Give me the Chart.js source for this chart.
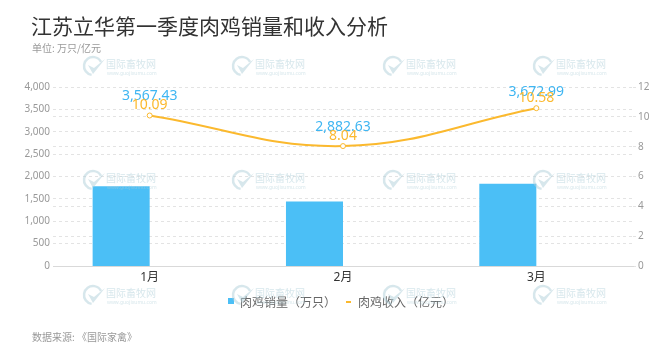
<!DOCTYPE html>
<html>
<head>
<meta charset="utf-8">
<script src="https://cdn.jsdelivr.net/npm/chart.js@4"></script>
<style>
  html, body { margin: 0; padding: 0; background: #fff; }
  #wrap { width: 665px; height: 353px; }
</style>
</head>
<body>
<div id="wrap"><canvas id="chart" width="665" height="353"></canvas></div>
<script>
// data
const months = ['1月', '2月', '3月'];
const sales = [3567.43, 2882.63, 3672.99];     // 肉鸡销量（万只）
const revenue = [10.09, 8.04, 10.58];          // 肉鸡收入（亿元）
const salesTicks = [0, 500, 1000, 1500, 2000, 2500, 3000, 3500, 4000];
const revenueTicks = [0, 2, 4, 6, 8, 10, 12];

const BLUE = '#4bbff6';
const BLUE_TEXT = '#3fb6f2';
const ORANGE = '#fbb92e';
const FONT = '"Noto Sans", "Noto Sans CJK SC", sans-serif';
const CJK = '"Noto Sans CJK SC", sans-serif';

function drawMark(ctx, x, y) {
    const c = 'rgba(175, 208, 218, 0.5)';
    ctx.save();
    ctx.strokeStyle = c;
    ctx.fillStyle = c;
    ctx.lineWidth = 2.5;
    ctx.beginPath();
    ctx.arc(x + 10, y + 11, 9, Math.PI * 0.55, Math.PI * 1.85);
    ctx.stroke();
    ctx.beginPath();
    ctx.moveTo(x + 5, y + 10);
    ctx.lineTo(x + 10, y + 19);
    ctx.lineTo(x + 22, y + 4);
    ctx.lineTo(x + 11, y + 13);
    ctx.closePath();
    ctx.fill();
    ctx.textAlign = 'left';
    ctx.textBaseline = 'alphabetic';
    ctx.font = '10px ' + CJK;
    ctx.fillText('国际畜牧网', x + 23, y + 13);
    ctx.font = '5px ' + FONT;
    ctx.fillText('www.guojixumu.com', x + 24, y + 20);
    ctx.restore();
}

const decorations = {
    id: 'decorations',
    beforeDraw(chart) {
        const ctx = chart.ctx;
        ctx.save();
        ctx.fillStyle = '#fff';
        ctx.fillRect(0, 0, chart.width, chart.height);
        ctx.textAlign = 'left';
        ctx.textBaseline = 'middle';
        ctx.fillStyle = '#333';
        ctx.font = '21px ' + CJK;
        ctx.fillText('江苏立华第一季度肉鸡销量和收入分析', 31, 26);
        ctx.fillStyle = '#999';
        ctx.font = '10px ' + CJK;
        ctx.fillText('单位: 万只/亿元', 32, 48);
        ctx.fillText('数据来源: 《国际家禽》', 32, 337);

        // legend
        ctx.fillStyle = BLUE;
        ctx.fillRect(228, 298, 6, 6);
        ctx.fillStyle = ORANGE;
        ctx.fillRect(346, 301, 5, 2);
        ctx.fillStyle = '#666';
        ctx.font = '12px ' + CJK;
        ctx.fillText('肉鸡销量（万只）', 240, 302);
        ctx.fillText('肉鸡收入（亿元）', 358, 302);
        ctx.restore();
    },
    afterDatasetsDraw(chart) {
        const { ctx, scales } = chart;
        const lineMeta = chart.getDatasetMeta(2);
        ctx.save();
        ctx.textAlign = 'center';
        ctx.textBaseline = 'alphabetic';
        ctx.font = '14px ' + FONT;
        months.forEach((m, i) => {
            const x = scales.x.getPixelForValue(i);
            ctx.fillStyle = BLUE_TEXT;
            ctx.fillText(sales[i].toLocaleString('en-US', { minimumFractionDigits: 2 }), x, scales.y.getPixelForValue(sales[i]) - 6);
            ctx.fillStyle = ORANGE;
            ctx.fillText(revenue[i].toFixed(2), x, lineMeta.data[i].y - 6);
        });
        ctx.restore();
    },
    afterDraw(chart) {
        const ctx = chart.ctx;
        [83, 232, 383, 533].forEach(x => {
            [55, 169, 284].forEach(y => drawMark(ctx, x, y));
        });
    }
};

new Chart(document.getElementById('chart'), {
    data: {
        labels: months,
        datasets: [
            {
                type: 'bar',
                label: '肉鸡销量（万只）',
                data: sales,
                yAxisID: 'yBar',
                backgroundColor: BLUE,
                categoryPercentage: 0.59,
                barPercentage: 1,
                order: 2
            },
            {
                type: 'bar',
                label: '',
                data: months.map(() => null),
                yAxisID: 'yBar',
                categoryPercentage: 0.59,
                barPercentage: 1,
                order: 3
            },
            {
                type: 'line',
                label: '肉鸡收入（亿元）',
                data: revenue,
                yAxisID: 'y1',
                borderColor: ORANGE,
                borderWidth: 2,
                tension: 0.4,
                pointRadius: 2.5,
                pointBorderWidth: 1,
                pointBackgroundColor: '#fff',
                pointBorderColor: ORANGE,
                order: 0
            }
        ]
    },
    options: {
        responsive: false,
        animation: false,
        devicePixelRatio: 1,
        layout: { padding: { top: 87, left: 0, right: 0, bottom: 0 } },
        plugins: {
            legend: { display: false },
            tooltip: { enabled: false }
        },
        scales: {
            x: {
                grid: { display: false, drawTicks: false },
                border: { display: true, color: '#d9d9d9' },
                ticks: { color: '#333', font: { size: 12, family: FONT }, padding: 4 },
                afterFit(scale) { scale.height = 87; }
            },
            y: {
                position: 'left',
                min: 0,
                max: 4000,
                afterBuildTicks(scale) { scale.ticks = salesTicks.map(v => ({ value: v })); },
                grid: { color: '#e3e3e3', drawTicks: false },
                border: { display: false, dash: [3, 3] },
                ticks: {
                    color: '#999',
                    font: { size: 10, family: FONT },
                    padding: 3,
                    callback: v => v.toLocaleString('en-US')
                },
                afterFit(scale) { scale.width = 53; }
            },
            y1: {
                position: 'right',
                min: 0,
                max: 12,
                afterBuildTicks(scale) { scale.ticks = revenueTicks.map(v => ({ value: v })); },
                grid: { color: '#e3e3e3', drawTicks: true, tickLength: 3 },
                border: { display: false, dash: [3, 3] },
                ticks: { color: '#999', font: { size: 10, family: FONT }, padding: 2 },
                afterFit(scale) { scale.width = 32; }
            },
            yBar: {
                display: false,
                min: 0,
                max: 8000
            }
        }
    },
    plugins: [decorations]
});
</script>
</body>
</html>
